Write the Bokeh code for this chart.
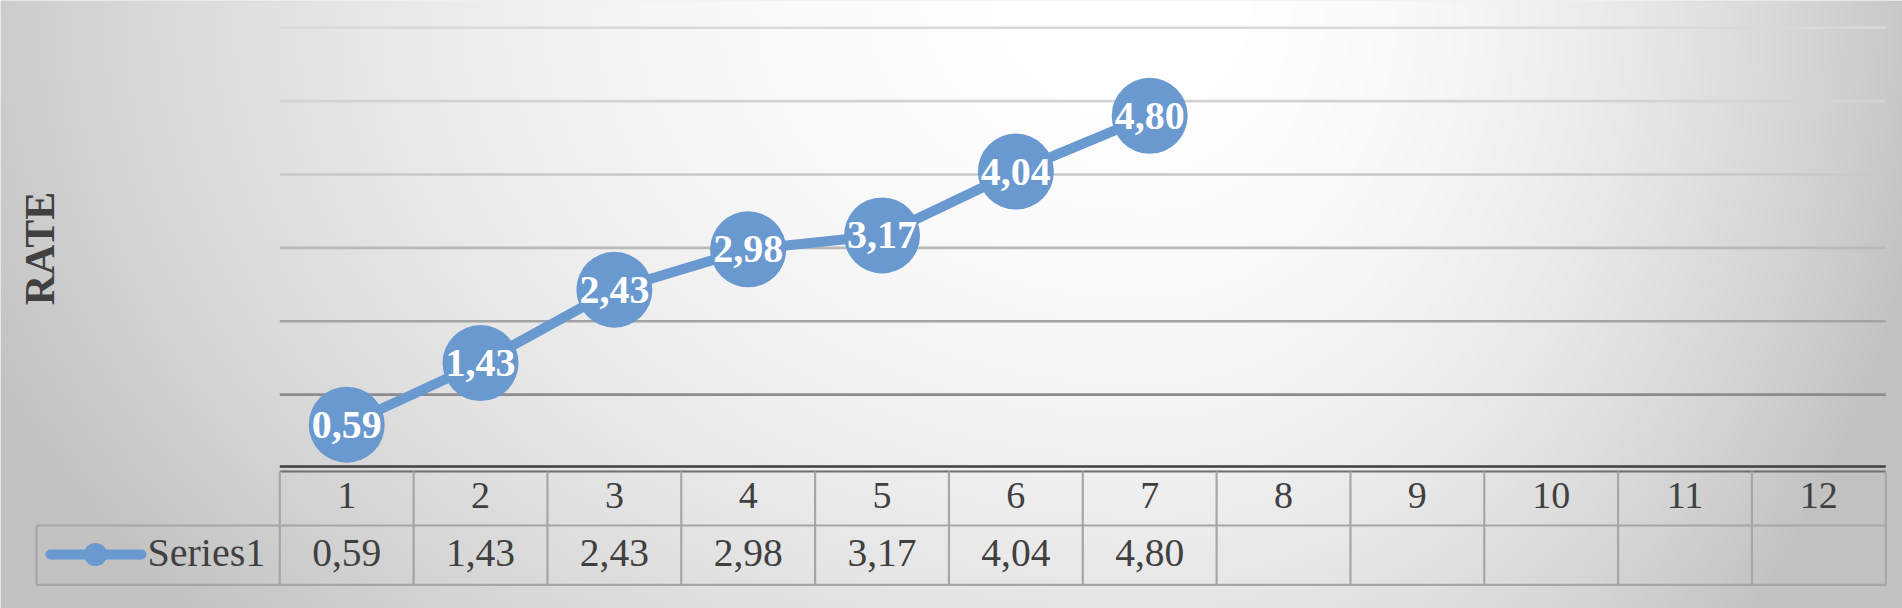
import numpy as np
from bokeh.plotting import figure
from bokeh.models import Range1d
from bokeh.embed import file_html
from bokeh.resources import INLINE
from bokeh.core.properties import value

# ---------------- data ----------------
categories = ["1", "2", "3", "4", "5", "6", "7", "8", "9", "10", "11", "12"]
series_name = "Series1"
series_values = [0.59, 1.43, 2.43, 2.98, 3.17, 4.04, 4.80]
y_ticks = [1, 2, 3, 4, 5, 6]
axis_title = "RATE"

# ---------------- layout ----------------
W, H = 1902, 608
OFF = 0
PLOT_LEFT = 279.3         # screen px
CAT_W = 133.83            # px per category
Y0_PX = 467.5             # screen px of value 0
UNIT_PX = 73.37           # px per value unit

x_start = 0.5 - (PLOT_LEFT - OFF) / CAT_W
x_end = x_start + W / CAT_W
y_end = (Y0_PX - OFF) / UNIT_PX
y_start = y_end - H / UNIT_PX


def dx(px):  # window x px -> data
    return 0.5 + (px - PLOT_LEFT) / CAT_W


def dy(py):  # window y px -> data
    return (Y0_PX - py) / UNIT_PX


BLUE = "#6999CF"
TXT = "#404040"
SERIF = value("Liberation Serif")

p = figure(width=W, height=H, output_backend="svg", toolbar_location=None,
           x_range=Range1d(x_start, x_end), y_range=Range1d(y_start, y_end),
           x_axis_location=None, y_axis_location=None, min_border=0,
           outline_line_color=None)
p.xgrid.visible = False
p.ygrid.visible = False
p.background_fill_color = "#e6e6e6"
p.border_fill_color = "#e6e6e6"

# ---------------- background gradient ----------------
step = 4
nx, ny = W // step + 1, H // step + 1
cxs = (np.arange(nx) * step + step / 2) + OFF
cys = (np.arange(ny) * step + step / 2) + OFF
X, Y = np.meshgrid(cxs, cys[::-1])
rx = np.where(X < 1150, 1200.0, 750.0)
d2 = ((X - 1150) / rx) ** 2 + (Y / 900.0) ** 2
b = np.clip(255 - 55 * d2, 194, 255).astype(np.uint8)
img = np.empty((ny, nx), dtype=np.uint32)
v = img.view(dtype=np.uint8).reshape((ny, nx, 4))
v[:, :, 0] = b
v[:, :, 1] = b
v[:, :, 2] = b
v[:, :, 3] = 255
p.image_rgba(image=[img], x=x_start, y=y_end - ny * step / UNIT_PX,
             dw=nx * step / CAT_W, dh=ny * step / UNIT_PX)

# ---------------- gridlines ----------------
n = len(categories)
grid_colors = ["#8c8c8c", "#a3a3a3", "#b9b9b9", "#c8c8c8", "#d3d3d3", "#d9d9d9"]
p.segment(x0=[0.5] * len(y_ticks), x1=[n + 0.5] * len(y_ticks),
          y0=y_ticks, y1=y_ticks, line_color=grid_colors, line_width=2.6)

# axis line
p.segment(x0=[0.5], x1=[n + 0.5], y0=[dy(466)], y1=[dy(466)],
          line_color="#3f3f3f", line_width=2.5)

# ---------------- data table ----------------
row_top = dy(471)
row_mid = dy(525)
row_bot = dy(584.3)
legend_left = dx(36)
grey = "#a6a6a6"
p.segment(x0=[0.5], x1=[n + 0.5], y0=[row_top], y1=[row_top],
          line_color="#6f6f6f", line_width=2)
p.segment(x0=[legend_left, legend_left], x1=[n + 0.5, n + 0.5],
          y0=[row_mid, row_bot], y1=[row_mid, row_bot],
          line_color=grey, line_width=2.2)
col_x = [i + 0.5 for i in range(n + 1)]
p.segment(x0=col_x, x1=col_x, y0=[row_top] * len(col_x), y1=[row_bot] * len(col_x),
          line_color=grey, line_width=2.2)
p.segment(x0=[legend_left], x1=[legend_left], y0=[row_mid], y1=[row_bot],
          line_color=grey, line_width=2.2)

cat_x = list(range(1, n + 1))
p.text(x=cat_x, y=[dy(495)] * n, text=categories, text_font=SERIF,
       text_font_size="38px", text_color=TXT, text_align="center",
       text_baseline="middle")

val_text = [f"{v_:.2f}".replace(".", ",") for v_ in series_values]
m = len(series_values)
p.text(x=cat_x[:m], y=[dy(552)] * m, text=val_text, text_font=SERIF,
       text_font_size="39.5px", text_color=TXT, text_align="center",
       text_baseline="middle")

# legend key inside the table
p.line(x=[dx(50), dx(141)], y=[dy(554), dy(554)], line_color=BLUE,
       line_width=10, line_cap="round")
p.scatter(x=[dx(95)], y=[dy(554)], size=23, fill_color=BLUE, line_color=None)
p.text(x=[dx(147)], y=[dy(552)], text=[series_name], text_font=SERIF,
       text_font_size="40px", text_color=TXT, text_align="left",
       text_baseline="middle")

# ---------------- series ----------------
p.line(x=cat_x[:m], y=series_values, line_color=BLUE, line_width=10,
       line_join="round")
p.scatter(x=cat_x[:m], y=series_values, size=76, fill_color=BLUE,
          line_color=None)
p.text(x=cat_x[:m], y=series_values, text=val_text, text_font=SERIF,
       text_font_style="bold", text_font_size="40px", text_color="white",
       text_align="center", text_baseline="middle")

# ---------------- axis title ----------------
p.text(x=[dx(39)], y=[dy(248)], text=[axis_title], text_font=SERIF,
       text_font_style="bold", text_font_size="42px", text_color=TXT,
       text_align="center", text_baseline="middle", angle=np.pi / 2)

open("out.html", "w").write(file_html(p, INLINE))
